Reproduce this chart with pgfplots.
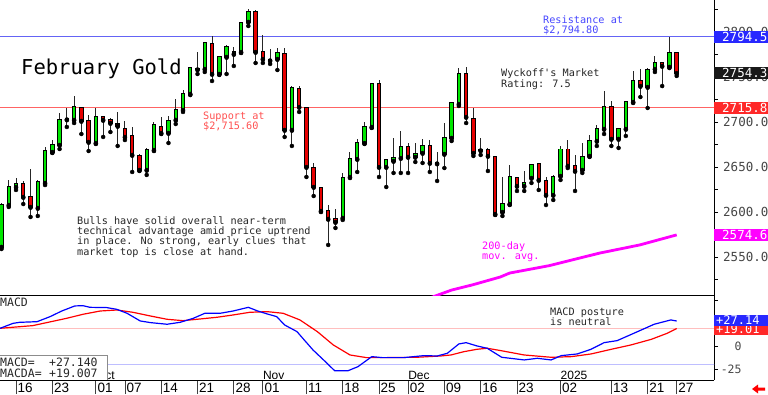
\documentclass[border=0pt]{standalone}
\usepackage{pgfplots}
\pgfplotsset{compat=1.18}
\usepackage{pgfplotstable}
\usepackage{fontspec}
\setmainfont{Liberation Sans}
\newfontfamily\mono{DejaVu Sans Mono}
\definecolor{cgreen}{RGB}{0,230,0}
\definecolor{cred}{RGB}{230,0,0}
\definecolor{resline}{RGB}{100,100,245}
\definecolor{supline}{RGB}{255,100,100}
\definecolor{restext}{RGB}{70,70,255}
\definecolor{suptext}{RGB}{255,80,80}
\definecolor{mag}{RGB}{255,0,255}
\definecolor{boxblue}{RGB}{40,40,255}
\definecolor{boxred}{RGB}{255,40,40}
\definecolor{boxblack}{RGB}{25,25,25}
\definecolor{tickgray}{RGB}{70,70,70}
\definecolor{macdblue}{RGB}{0,0,255}
\definecolor{macdred}{RGB}{255,0,0}
\definecolor{pinkline}{RGB}{255,190,190}
\definecolor{lblueline}{RGB}{190,190,255}

\pgfplotstableread{
i o h l c
0 2561.2 2610.0 2558.9 2607.8
1 2607.8 2635.6 2605.6 2627.8
2 2627.8 2637.8 2624.5 2631.2
3 2631.2 2634.5 2608.9 2616.7
4 2616.7 2647.8 2594.5 2605.6
5 2604.5 2635.6 2595.6 2633.4
6 2632.3 2672.3 2630.0 2667.8
7 2666.7 2680.0 2665.6 2674.5
8 2674.5 2710.0 2670.0 2702.3
9 2703.9 2715.6 2694.5 2702.8
10 2702.3 2728.9 2698.9 2716.7
11 2715.6 2716.7 2686.7 2701.2
12 2701.2 2707.8 2667.8 2677.8
13 2676.7 2715.6 2675.6 2705.6
14 2705.6 2706.7 2683.4 2702.3
15 2702.3 2704.5 2688.9 2698.9
16 2697.8 2711.2 2673.4 2695.6
17 2692.3 2701.2 2680.0 2683.4
18 2684.5 2694.5 2644.5 2663.4
19 2662.3 2664.5 2645.6 2646.7
20 2646.7 2671.2 2641.2 2668.9
21 2668.9 2700.0 2667.8 2696.7
22 2694.5 2705.6 2686.7 2687.8
23 2687.8 2706.7 2676.7 2701.2
24 2702.3 2725.6 2697.8 2713.4
25 2713.4 2735.6 2711.2 2731.2
26 2731.2 2761.2 2730.0 2760.0
27 2759.5 2777.8 2753.4 2758.4
28 2758.9 2788.9 2755.6 2787.8
29 2786.7 2795.6 2745.6 2753.4
30 2753.4 2773.4 2752.3 2772.3
31 2772.3 2785.6 2753.4 2783.4
32 2775.6 2783.4 2762.3 2777.8
33 2777.8 2811.2 2776.7 2810.0
34 2811.2 2825.6 2806.7 2822.3
35 2822.3 2824.5 2765.6 2777.8
36 2777.8 2796.7 2765.6 2770.0
37 2768.4 2781.2 2764.5 2769.5
38 2770.0 2782.3 2757.8 2776.7
39 2775.6 2782.3 2683.4 2691.2
40 2691.2 2740.0 2673.4 2737.8
41 2736.7 2740.0 2711.2 2716.7
42 2715.6 2716.7 2638.9 2650.0
43 2648.9 2654.5 2617.8 2627.8
44 2626.7 2627.8 2600.0 2601.2
45 2601.2 2607.8 2563.4 2592.3
46 2592.3 2603.4 2582.3 2588.9
47 2593.4 2643.4 2591.2 2637.8
48 2638.9 2666.7 2637.8 2658.9
49 2658.9 2681.2 2644.5 2676.7
50 2676.7 2700.0 2675.6 2694.5
51 2694.5 2743.4 2693.4 2742.3
52 2742.3 2746.7 2638.9 2650.0
53 2650.0 2658.9 2627.8 2657.8
54 2656.7 2682.3 2643.4 2660.0
55 2660.0 2690.0 2643.4 2672.3
56 2672.3 2676.7 2643.4 2661.2
57 2661.2 2676.7 2655.6 2664.5
58 2665.6 2681.2 2654.5 2673.4
59 2673.4 2680.0 2644.5 2654.5
60 2655.0 2666.7 2634.5 2653.9
61 2664.5 2698.9 2648.9 2682.3
62 2682.3 2722.3 2678.9 2721.2
63 2720.0 2760.0 2717.8 2753.4
64 2753.4 2761.2 2698.9 2705.6
65 2703.4 2715.6 2662.3 2665.6
66 2668.4 2682.3 2663.4 2669.5
67 2668.9 2671.2 2645.6 2662.3
68 2661.2 2662.3 2596.7 2597.8
69 2600.0 2638.9 2595.6 2608.9
70 2608.9 2652.3 2607.8 2638.9
71 2637.8 2638.9 2623.4 2628.9
72 2628.9 2645.6 2623.4 2632.3
73 2637.8 2653.4 2632.3 2652.3
74 2653.4 2654.5 2624.5 2635.6
75 2634.5 2638.9 2607.8 2618.9
76 2618.9 2641.2 2613.4 2638.9
77 2640.0 2673.4 2635.6 2669.5
78 2669.5 2680.0 2648.9 2651.2
79 2651.2 2663.4 2623.4 2645.6
80 2646.7 2676.7 2643.4 2661.2
81 2662.3 2685.6 2661.2 2678.9
82 2678.9 2696.7 2673.4 2692.3
83 2692.3 2734.5 2686.7 2716.7
84 2716.7 2723.4 2673.4 2681.2
85 2681.2 2693.4 2671.2 2692.3
86 2692.3 2723.4 2684.5 2722.3
87 2722.3 2756.7 2721.2 2745.6
88 2745.6 2758.9 2727.8 2740.0
89 2738.9 2760.0 2715.6 2757.8
90 2758.9 2773.4 2755.6 2765.6
91 2765.6 2766.7 2740.0 2762.3
92 2761.2 2794.5 2760.0 2776.7
93 2776.7 2777.8 2751.2 2754.3
}\candles

\begin{document}
\begin{tikzpicture}[x=1pt,y=1pt]
\useasboundingbox (0,0) rectangle (768,394);
% ---------------- price panel ----------------
\begin{axis}[
  at={(0pt,99pt)}, anchor=south west, scale only axis,
  width=714pt, height=295pt,
  xmin=-0.207, xmax=98.14, ymin=2507.8, ymax=2835.6,
  axis x line=bottom, axis y line=right,
  axis line style={-, black, line width=1pt},
  xtick=\empty,
  ytick={2550,2600,2650,2700,2750,2800},
  yticklabels={2550.0,2600.0,2650.0,2700.0,2750.0,2800.0},
  minor ytick={2525,2575,2625,2675,2725,2775,2825},
  tick align=outside, major tick length=4pt, minor tick length=4pt,
  tick style={black, line width=0.6pt},
  yticklabel style={font=\mono\fontsize{12.5}{12.5}\selectfont, text=tickgray, anchor=west, inner sep=0pt, xshift=5pt},
  clip mode=individual,
]
\addplot[resline, line width=1pt] coordinates {(-1,2794.8) (99,2794.8)};
\addplot[supline, line width=1pt] coordinates {(-1,2715.6) (99,2715.6)};
\addplot[mag, line width=2.8pt] coordinates {(59,2504.5) (62,2513.3) (64.8,2518.9) (68.7,2527.8) (70,2532.2) (75.5,2540.5) (82.4,2554.4) (87.9,2563.4) (93,2574.6)};
% wicks
\addplot[only marks, mark=none, error bars/.cd, y dir=plus, y explicit, error mark=none,
  error bar style={line width=1pt, draw=black!85}]
  table[x=i, y=l, y error plus expr={\thisrow{h}-\thisrow{l}}] {\candles};
% body outlines
\addplot[only marks, mark=none, error bars/.cd, y dir=plus, y explicit, error mark=none,
  error bar style={line width=4.4pt, draw=black}]
  table[x=i, y expr={min(\thisrow{o},\thisrow{c})-0.8}, y error plus expr={abs(\thisrow{c}-\thisrow{o})+1.6}] {\candles};
% up bodies
\addplot[only marks, mark=none, restrict expr to domain={\thisrow{c}-\thisrow{o}}{0:1000},
  error bars/.cd, y dir=plus, y explicit, error mark=none,
  error bar style={line width=2.4pt, draw=cgreen}]
  table[x=i, y=o, y error plus expr={\thisrow{c}-\thisrow{o}}] {\candles};
% down bodies
\addplot[only marks, mark=none, restrict expr to domain={\thisrow{o}-\thisrow{c}}{0:1000},
  error bars/.cd, y dir=plus, y explicit, error mark=none,
  error bar style={line width=2.4pt, draw=cred}]
  table[x=i, y=c, y error plus expr={\thisrow{o}-\thisrow{c}}] {\candles};
% value boxes
\tikzset{vbox/.style={anchor=west, text=white, inner sep=0pt, minimum height=12pt, text width=54pt, align=left, font=\mono\fontsize{12.5}{12.5}\selectfont}}
\node[vbox, fill=boxblue] at (axis cs:98.14,2794.5) {\hspace*{8pt}2794.5};
\node[vbox, fill=boxblack] at (axis cs:98.14,2754.3) {\hspace*{8pt}2754.3};
\node[vbox, fill=boxred] at (axis cs:98.14,2715.8) {\hspace*{8pt}2715.8};
\node[vbox, fill=mag] at (axis cs:98.14,2574.6) {\hspace*{8pt}2574.6};
\end{axis}
% ---------------- MACD panel ----------------
\begin{axis}[
  at={(0pt,14pt)}, anchor=south west, scale only axis,
  width=714pt, height=85pt,
  xmin=-0.207, xmax=98.14, ymin=-37.0, ymax=55.4,
  axis x line=bottom, axis y line=right,
  axis line style={-, black, line width=0.8pt},
  xtick={2,7,13,17,22,27,32,36,42,47,52,56,61,66,71,77,84,89,93},
  xticklabels={16,23,01,07,14,21,28,01,11,18,25,02,09,16,23,02,13,21,27},
  xtick style={/pgfplots/major tick length=14pt, black!75, line width=0.8pt},
  xticklabel style={font=\fontsize{13.5}{13.5}\selectfont, anchor=base west, inner sep=0pt, xshift=1.5pt, yshift=-8.6pt},
  ytick={-25,0,25,50},
  yticklabels={-25,0,25,{}},
  ytick style={/pgfplots/major tick length=4pt, black, line width=0.6pt},
  tick align=outside,
  yticklabel style={font=\mono\fontsize{11.5}{11.5}\selectfont, text=tickgray, anchor=east, inner sep=0pt, xshift=23.5pt},
  clip mode=individual,
]
\addplot[pinkline, line width=0.8pt] coordinates {(-1,19.0) (99,19.0)};
\addplot[lblueline, line width=0.8pt] coordinates {(-1,-20.5) (99,-20.5)};
\addplot[macdred, line width=1.2pt, line join=round] coordinates {
(-0.2,19.2) (4.3,22.1) (9,30.1) (11.2,34.4) (13.6,38) (15.9,39.1) (18.1,36.6) (20.5,32.6) (22.8,29) (25,27.5) (27.3,29.3) (29.7,31.2) (31.9,33.7) (34.2,36.6) (36.6,37.3) (38.8,35.5) (41.1,28.3) (43.5,15.6) (45.7,1.1) (48,-9.8) (50.3,-12.7) (52.5,-12.7) (57.2,-12.3) (60.5,-10.9) (61.9,-9.8) (63.7,-6.2) (65.5,-3.6) (66.9,-2.5) (68.8,-5.1) (72,-9.8) (75.7,-12.3) (78.5,-11.6) (81.2,-8.7) (84,-3.6) (86.7,1.1) (89.5,7.2) (91.7,13.8) (93,19.0)};
\addplot[macdblue, line width=1.2pt, line join=round] coordinates {
(-0.2,19.2) (1.6,24.6) (2.5,25.7) (4.9,26.4) (6.7,31.9) (8.3,38) (10.1,43.5) (11.2,43.8) (12.2,42) (14.5,41.7) (15.9,39.8) (17.3,35.5) (19.1,27.2) (20.5,25.4) (22.8,23.6) (24.6,25.7) (26.4,30) (28,35.5) (30.1,35.5) (31.9,38) (34,42) (35.3,38) (36.6,34.8) (37.9,31.9) (39,22.8) (40.7,15.6) (41.5,8.3) (42.9,-4.3) (44.6,-17) (45.9,-27) (47.7,-27) (49.1,-22.5) (51,-11.6) (52.5,-12.7) (55.4,-12.7) (58.2,-10.5) (60,-10.9) (61.4,-8) (63,2.2) (64,3.6) (65.5,0) (66.9,-2.5) (68.9,-12.3) (72,-15.2) (73.8,-13.4) (75.7,-15.2) (77.1,-10.5) (79.3,-8.7) (81.2,-3.6) (83,3.6) (84.8,5.8) (87.1,13.8) (89.9,23.6) (92.2,28.3) (93,27.1)};
\tikzset{mlab/.style={anchor=base west, inner sep=0pt, font=\fontsize{12}{12}\selectfont, yshift=0.8pt}}
\node[mlab] at (axis cs:13,-37) {Oct};
\node[mlab] at (axis cs:36,-37) {Nov};
\node[mlab] at (axis cs:56,-37) {Dec};
\node[mlab] at (axis cs:77,-37) {2025};
\tikzset{mbox/.style={anchor=west, text=white, inner sep=0pt, text width=54pt, align=left, font=\mono\fontsize{12}{12}\selectfont}}
\node[mbox, fill=boxred, minimum height=12pt] at (axis cs:98.14,18) {\hspace*{2pt}+19.01};
\node[mbox, fill=boxblue, minimum height=11pt] at (axis cs:98.14,28) {\hspace*{2pt}+27.14};
\end{axis}
% MACD readout box
\fill[white] (0,14) rectangle (107,39);
\draw[black!45, line width=0.8pt] (0,39) -- (107,39) -- (107,14);
\tikzset{rd/.style={anchor=base west, inner sep=0pt, font=\mono\fontsize{11.5}{11.5}\selectfont, text=black!85}}
\node[rd] at (0,28) {MACD=};
\node[rd] at (49,28) {+27.140};
\node[rd] at (0,17) {MACDA=};
\node[rd] at (49,17) {+19.007};
% annotations
\node[anchor=base west, inner sep=0pt, font=\mono\fontsize{20.5}{20.5}\selectfont] at (21,319) {February Gold};
\tikzset{ann/.style={anchor=base west, inner sep=0pt, font=\mono\fontsize{10.2}{10.2}\selectfont}}
\node[ann, text=suptext] at (203,274.5) {Support at};
\node[ann, text=suptext] at (203,264.5) {\$2,715.60};
\node[ann, text=restext] at (543,370.7) {Resistance at};
\node[ann, text=restext] at (543,360.7) {\$2,794.80};
\node[ann, text=black!85] at (501,317) {Wyckoff's Market};
\node[ann, text=black!85] at (501,306.7) {Rating: 7.5};
\node[ann, text=black!85] at (77,170) {Bulls have solid overall near-term};
\node[ann, text=black!85] at (77,159.7) {technical advantage amid price uptrend};
\node[ann, text=black!85] at (77,149.4) {in place. No strong, early clues that};
\node[ann, text=black!85] at (77,139) {market top is close at hand.};
\node[ann, text=mag] at (482,144.5) {200-day};
\node[ann, text=mag] at (482,134.5) {mov. avg.};
\node[ann, text=black!85] at (550,79) {MACD posture};
\node[ann, text=black!85] at (550,68.7) {is neutral};
\node[anchor=base west, inner sep=0pt, font=\mono\fontsize{11.5}{11.5}\selectfont, text=black!85] at (0,87.5) {MACD};
% red arrow
\fill[red] (752,5) -- (758,9.5) -- (758,6.5) -- (765,6.5) -- (765,3.5) -- (758,3.5) -- (758,0.5) -- cycle;
\end{tikzpicture}
\end{document}
